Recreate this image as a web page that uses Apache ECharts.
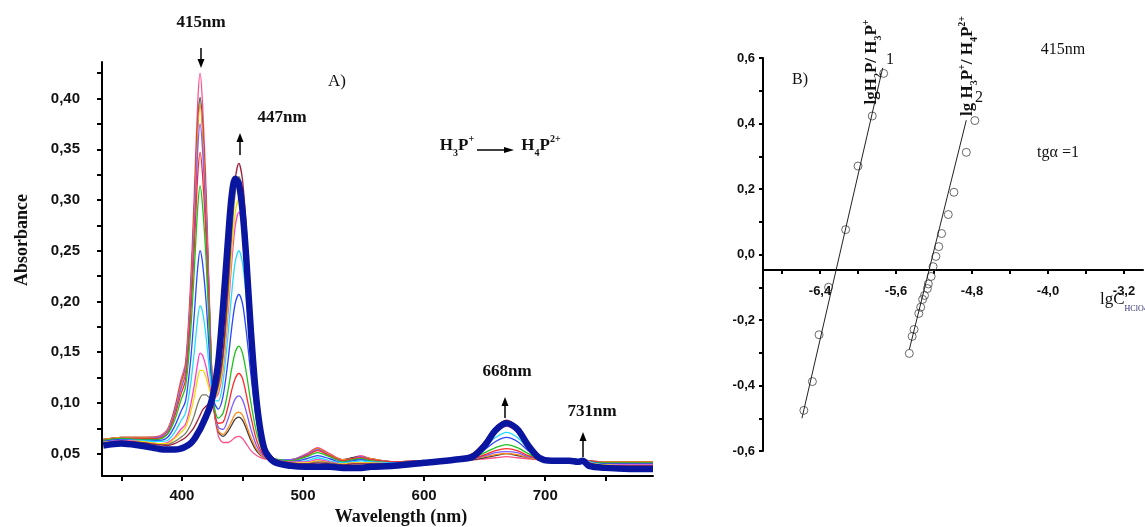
<!DOCTYPE html>
<html>
<head>
<meta charset="utf-8">
<script src="https://cdn.jsdelivr.net/npm/echarts@6.0.0/dist/echarts.min.js"></script>
<style>
html, body { margin: 0; padding: 0; background: #fff; }
#main { width: 1145px; height: 527px; }
</style>
</head>
<body>
<div id="main"></div>
<script>
// ---- panel A : spectra (wavelength, nm) ----
var wavelength = [335, 350, 365, 380, 388, 394, 399, 403, 407, 410, 413, 415, 417, 420, 423, 426, 430, 434, 438, 441,
  444, 447, 450, 453, 457, 462, 468, 476, 490, 503, 512, 522, 533, 541, 548, 556, 575, 600, 625, 640,
  650, 659, 668, 677, 686, 695, 705, 720, 727, 731, 736, 750, 770, 789];

var absPink    = [0.064,0.066,0.066,0.067,0.074,0.095,0.122,0.140,0.215,0.300,0.395,0.425,0.395,0.310,0.190,0.100,0.068,0.061,0.061,0.063,0.066,0.067,0.065,0.060,0.053,0.048,0.045,0.044,0.044,0.050,0.056,0.050,0.044,0.046,0.048,0.045,0.042,0.043,0.044,0.044,0.045,0.046,0.047,0.046,0.045,0.044,0.043,0.042,0.043,0.044,0.043,0.042,0.042,0.042];
var absBlack   = [0.064,0.066,0.066,0.066,0.073,0.093,0.118,0.135,0.205,0.284,0.373,0.401,0.374,0.295,0.184,0.100,0.072,0.067,0.072,0.078,0.084,0.086,0.083,0.075,0.063,0.052,0.046,0.044,0.044,0.049,0.055,0.049,0.044,0.046,0.047,0.045,0.042,0.043,0.044,0.044,0.046,0.048,0.050,0.048,0.046,0.044,0.043,0.042,0.043,0.044,0.043,0.042,0.042,0.042];
var absOrange  = [0.064,0.066,0.066,0.066,0.073,0.092,0.117,0.133,0.202,0.280,0.367,0.395,0.368,0.291,0.182,0.100,0.073,0.069,0.075,0.082,0.089,0.091,0.088,0.079,0.066,0.054,0.046,0.044,0.044,0.049,0.055,0.049,0.044,0.045,0.047,0.045,0.042,0.043,0.044,0.045,0.047,0.049,0.050,0.049,0.046,0.044,0.043,0.042,0.043,0.044,0.043,0.042,0.042,0.042];
var absViolet  = [0.063,0.065,0.065,0.066,0.072,0.090,0.113,0.129,0.193,0.266,0.348,0.375,0.350,0.278,0.177,0.101,0.076,0.074,0.084,0.095,0.104,0.107,0.103,0.092,0.074,0.057,0.047,0.044,0.044,0.049,0.054,0.048,0.043,0.045,0.047,0.044,0.042,0.043,0.044,0.045,0.048,0.051,0.052,0.051,0.047,0.045,0.043,0.042,0.043,0.044,0.043,0.041,0.041,0.041];
var absRed     = [0.063,0.065,0.065,0.065,0.070,0.087,0.108,0.123,0.182,0.248,0.323,0.347,0.325,0.261,0.169,0.101,0.080,0.081,0.096,0.112,0.124,0.129,0.124,0.109,0.086,0.062,0.048,0.044,0.043,0.048,0.053,0.048,0.043,0.045,0.046,0.044,0.042,0.043,0.044,0.045,0.049,0.053,0.055,0.053,0.048,0.045,0.043,0.042,0.043,0.044,0.043,0.041,0.041,0.041];
var absGreen   = [0.063,0.065,0.064,0.064,0.069,0.083,0.102,0.116,0.167,0.226,0.292,0.314,0.295,0.240,0.160,0.102,0.085,0.090,0.112,0.133,0.150,0.156,0.149,0.131,0.100,0.069,0.050,0.045,0.043,0.047,0.051,0.047,0.042,0.044,0.045,0.043,0.041,0.043,0.044,0.046,0.051,0.056,0.059,0.056,0.050,0.045,0.043,0.042,0.043,0.044,0.042,0.041,0.041,0.041];
var absBlue    = [0.062,0.064,0.063,0.063,0.066,0.077,0.091,0.102,0.140,0.184,0.233,0.250,0.238,0.199,0.143,0.103,0.094,0.107,0.141,0.173,0.198,0.207,0.198,0.172,0.127,0.080,0.053,0.045,0.042,0.045,0.048,0.045,0.041,0.043,0.044,0.042,0.041,0.042,0.044,0.047,0.054,0.062,0.066,0.062,0.053,0.046,0.043,0.042,0.043,0.045,0.042,0.040,0.040,0.040];
var absCyan    = [0.061,0.063,0.063,0.062,0.063,0.071,0.082,0.090,0.117,0.148,0.183,0.196,0.190,0.165,0.129,0.103,0.102,0.122,0.166,0.207,0.239,0.250,0.238,0.206,0.150,0.090,0.055,0.045,0.042,0.043,0.046,0.043,0.041,0.042,0.043,0.042,0.041,0.042,0.044,0.048,0.057,0.066,0.071,0.066,0.055,0.047,0.043,0.042,0.043,0.045,0.042,0.039,0.039,0.039];
var absMagenta = [0.061,0.063,0.062,0.060,0.061,0.066,0.074,0.079,0.097,0.116,0.139,0.149,0.147,0.135,0.116,0.104,0.109,0.134,0.187,0.237,0.274,0.288,0.274,0.236,0.169,0.099,0.057,0.045,0.042,0.042,0.044,0.042,0.040,0.041,0.041,0.041,0.040,0.042,0.044,0.049,0.059,0.071,0.077,0.071,0.057,0.047,0.043,0.042,0.043,0.045,0.041,0.039,0.039,0.039];
var absYellow  = [0.061,0.062,0.062,0.060,0.060,0.065,0.071,0.076,0.090,0.105,0.124,0.132,0.132,0.125,0.112,0.104,0.112,0.138,0.195,0.247,0.287,0.301,0.287,0.247,0.177,0.102,0.058,0.045,0.041,0.041,0.043,0.041,0.040,0.041,0.041,0.041,0.040,0.042,0.044,0.049,0.060,0.072,0.078,0.072,0.058,0.047,0.043,0.042,0.043,0.045,0.041,0.039,0.038,0.038];
var absOlive   = [0.060,0.062,0.061,0.059,0.059,0.062,0.066,0.070,0.078,0.087,0.099,0.105,0.108,0.108,0.105,0.105,0.116,0.146,0.207,0.264,0.307,0.323,0.307,0.264,0.188,0.107,0.059,0.045,0.041,0.040,0.042,0.041,0.039,0.040,0.040,0.040,0.040,0.042,0.044,0.050,0.061,0.075,0.081,0.075,0.059,0.048,0.043,0.042,0.043,0.045,0.041,0.038,0.038,0.038];
var absDarkRed = [0.060,0.062,0.061,0.059,0.058,0.060,0.063,0.066,0.071,0.076,0.083,0.088,0.093,0.097,0.100,0.105,0.118,0.150,0.215,0.275,0.320,0.336,0.320,0.275,0.195,0.110,0.060,0.045,0.041,0.040,0.041,0.040,0.039,0.040,0.040,0.040,0.040,0.042,0.044,0.050,0.062,0.076,0.083,0.076,0.060,0.048,0.043,0.042,0.043,0.045,0.041,0.038,0.038,0.038];
var absNavy    = [0.058,0.060,0.058,0.055,0.054,0.054,0.055,0.057,0.060,0.064,0.070,0.074,0.079,0.087,0.096,0.110,0.140,0.195,0.260,0.303,0.321,0.316,0.290,0.245,0.170,0.098,0.055,0.042,0.038,0.037,0.037,0.037,0.036,0.036,0.036,0.037,0.038,0.041,0.044,0.047,0.058,0.073,0.080,0.074,0.058,0.046,0.043,0.043,0.042,0.043,0.038,0.036,0.035,0.035];

var tickAx  = [350, 400, 450, 500, 550, 600, 650, 700, 750];
var labelAx = [400, 500, 600, 700];
var tickAy  = [0.05, 0.075, 0.10, 0.125, 0.15, 0.175, 0.20, 0.225, 0.25, 0.275, 0.30, 0.325, 0.35, 0.375, 0.40, 0.425];
var labelAy = [0.05, 0.10, 0.15, 0.20, 0.25, 0.30, 0.35, 0.40];

// ---- panel B : lg ratio vs lgC(HClO4) ----
var b1X = [-6.57, -6.48, -6.41, -6.31, -6.13, -6.00, -5.85, -5.73];
var b1Y = [-0.476, -0.388, -0.245, -0.100, 0.076, 0.270, 0.423, 0.553];
var b2X = [-5.46, -5.43, -5.41, -5.36, -5.34, -5.32, -5.30, -5.27, -5.26, -5.23, -5.21, -5.18, -5.15, -5.12, -5.05, -4.99, -4.86, -4.77];
var b2Y = [-0.302, -0.250, -0.229, -0.180, -0.161, -0.137, -0.125, -0.104, -0.090, -0.067, -0.037, -0.006, 0.024, 0.064, 0.122, 0.190, 0.312, 0.409];
var fit1X = [-6.59, -5.74];
var fit1Y = [-0.50, 0.57];
var fit2X = [-5.46, -4.86];
var fit2Y = [-0.29, 0.41];

var tickBx  = [-6.8, -6.4, -6.0, -5.6, -5.2, -4.8, -4.4, -4.0, -3.6, -3.2];
var labelBx = [-6.4, -5.6, -4.8, -4.0, -3.2];
var tickBy  = [-0.6, -0.5, -0.4, -0.3, -0.2, -0.1, 0, 0.1, 0.2, 0.3, 0.4, 0.5, 0.6];
var labelBy = [-0.6, -0.4, -0.2, 0, 0.2, 0.4, 0.6];

var spectra = [
  [absPink, '#ff4f8b'], [absBlack, '#3c3c3c'], [absOrange, '#ff8a1a'], [absViolet, '#7f5cff'],
  [absRed, '#ff2a2a'], [absGreen, '#1fc21f'], [absBlue, '#2a46ff'], [absCyan, '#22dcff'],
  [absMagenta, '#ff3fc4'], [absYellow, '#f2dc00'], [absOlive, '#7d7d62'], [absDarkRed, '#a0203c']
];

function pairs(xs, ys) { return xs.map(function (x, i) { return [x, ys[i]]; }); }
function comma(v, d) { return v.toFixed(d).replace('.', ','); }

var series = [];
spectra.forEach(function (s) {
  series.push({
    type: 'line', xAxisIndex: 0, yAxisIndex: 0, smooth: 0.3, showSymbol: false,
    lineStyle: { color: s[1], width: 1.3 }, data: pairs(wavelength, s[0])
  });
});
series.push({
  type: 'line', xAxisIndex: 0, yAxisIndex: 0, smooth: 0.3, showSymbol: false,
  lineStyle: { color: '#0a16a0', width: 6.5 }, data: pairs(wavelength, absNavy)
});
[[b1X, b1Y], [b2X, b2Y]].forEach(function (p) {
  series.push({
    type: 'scatter', xAxisIndex: 1, yAxisIndex: 1, symbol: 'circle', symbolSize: 8,
    itemStyle: { color: 'transparent', borderColor: '#444', borderWidth: 1 }, data: pairs(p[0], p[1])
  });
});
[[fit1X, fit1Y], [fit2X, fit2Y]].forEach(function (p) {
  series.push({
    type: 'line', xAxisIndex: 1, yAxisIndex: 1, showSymbol: false,
    lineStyle: { color: '#222', width: 1 }, data: pairs(p[0], p[1])
  });
});

var tickFontA = { fontFamily: '"Liberation Sans", Arial, sans-serif', fontWeight: 'bold', fontSize: 15, color: '#111' };
var tickFontB = { fontFamily: '"Liberation Sans Narrow", "Liberation Sans", Arial, sans-serif', fontWeight: 'bold', fontSize: 13, color: '#111' };
var axLine = { onZero: false, lineStyle: { color: '#000', width: 2 } };

function arrow(x, y1, y2) {
  var d = y2 > y1 ? 1 : -1;
  return [
    { type: 'line', shape: { x1: x, y1: y1, x2: x, y2: y2 - d * 6 }, style: { stroke: '#000', lineWidth: 1.5 } },
    { type: 'polygon', shape: { points: [[x - 3.5, y2 - d * 9], [x + 3.5, y2 - d * 9], [x, y2]] }, style: { fill: '#000' } }
  ];
}
function txt(x, y, text, font, extra) {
  var st = { text: text, font: font, fill: '#111', align: 'center', verticalAlign: 'middle' };
  for (var k in (extra || {})) st[k] = extra[k];
  return { type: 'text', x: x, y: y, style: st };
}
var serifB = 'bold 17px "Liberation Serif", "Times New Roman", serif';
var serifN = '16px "Liberation Serif", "Times New Roman", serif';
var chem = {
  m: { fontFamily: '"Liberation Serif", serif', fontWeight: 'bold', fontSize: 17, lineHeight: 24, fill: '#111' },
  s: { fontFamily: '"Liberation Serif", serif', fontWeight: 'bold', fontSize: 10, lineHeight: 24, verticalAlign: 'bottom', fill: '#111' },
  p: { fontFamily: '"Liberation Serif", serif', fontWeight: 'bold', fontSize: 10, lineHeight: 24, verticalAlign: 'top', fill: '#111' }
};
var chemB = {
  m: { fontFamily: '"Liberation Serif", serif', fontWeight: 'bold', fontSize: 17, lineHeight: 22, fill: '#111' },
  s: { fontFamily: '"Liberation Serif", serif', fontWeight: 'bold', fontSize: 10, lineHeight: 22, verticalAlign: 'bottom', fill: '#111' },
  p: { fontFamily: '"Liberation Serif", serif', fontWeight: 'bold', fontSize: 10, lineHeight: 22, verticalAlign: 'top', fill: '#111' }
};

var graphics = [
  txt(201, 23, '415nm', serifB),
  txt(337, 82, 'A)', '17px "Liberation Serif", serif'),
  txt(282, 118, '447nm', serifB),
  txt(507, 372, '668nm', serifB),
  txt(592, 412, '731nm', serifB),
  txt(457, 146, '{m|H}{s|3}{m|P}{p|+}', null, { rich: chem }),
  txt(541, 146, '{m|H}{s|4}{m|P}{p|2+}', null, { rich: chem }),
  { type: 'line', shape: { x1: 477, y1: 150, x2: 506, y2: 150 }, style: { stroke: '#000', lineWidth: 1.5 } },
  { type: 'polygon', shape: { points: [[504, 147], [504, 153], [514, 150]] }, style: { fill: '#000' } },
  { type: 'text', x: 22, y: 240, rotation: Math.PI / 2,
    style: { text: 'Absorbance', font: 'bold 18px "Liberation Serif", serif', fill: '#111', align: 'center', verticalAlign: 'middle' } },
  txt(401, 517, 'Wavelength (nm)', 'bold 18px "Liberation Serif", serif'),
  // panel B texts
  txt(800, 80, 'B)', serifN),
  txt(1063, 50, '415nm', serifN),
  txt(1058, 153, 'tgα =1', serifN),
  txt(890, 60, '1', serifN),
  txt(979, 98, '2', serifN),
  { type: 'text', x: 872, y: 62, rotation: Math.PI / 2,
    style: { text: '{m|lgH}{s|2}{m|P/ H}{s|3}{m|P}{p|+}', rich: chemB, align: 'center', verticalAlign: 'middle' } },
  { type: 'text', x: 968, y: 66, rotation: Math.PI / 2,
    style: { text: '{m|lg H}{s|3}{m|P}{p|+}{m|/ H}{s|4}{m|P}{p|2+}', rich: chemB, align: 'center', verticalAlign: 'middle' } },
  { type: 'text', x: 1100, y: 300,
    style: { text: '{a|lgC}{b|HClO4}', align: 'left', verticalAlign: 'middle',
      rich: { a: { fontFamily: '"Liberation Serif", serif', fontSize: 17, lineHeight: 26, fill: '#111' },
              b: { fontFamily: '"Liberation Serif", serif', fontSize: 8, lineHeight: 26, verticalAlign: 'bottom', fill: '#2c2c6e' } } } }
].concat(arrow(201, 48, 68), arrow(240, 155, 133), arrow(505, 418, 397), arrow(583, 457, 432));

var chart = echarts.init(document.getElementById('main'));
chart.setOption({
  backgroundColor: '#fff',
  animation: false,
  grid: [
    { left: 102, top: 62, width: 551, height: 414 },
    { left: 763, top: 58, width: 380, height: 393 }
  ],
  xAxis: [
    { type: 'value', gridIndex: 0, min: 334, max: 789, axisLine: axLine,
      axisTick: { customValues: tickAx, length: 5, lineStyle: { color: '#000', width: 2 } },
      axisLabel: Object.assign({ customValues: labelAx, margin: 12 }, tickFontA),
      splitLine: { show: false } },
    { type: 'value', gridIndex: 1, min: -7.0, max: -3.0, offset: -181, axisLine: axLine,
      axisTick: { customValues: tickBx, length: 4, lineStyle: { color: '#000', width: 2 } },
      axisLabel: Object.assign({ customValues: labelBx, margin: 15, formatter: function (v) { return comma(v, 1); } }, tickFontB),
      splitLine: { show: false } }
  ],
  yAxis: [
    { type: 'value', gridIndex: 0, min: 0.028, max: 0.436, axisLine: axLine,
      axisTick: { customValues: tickAy, length: 5, lineStyle: { color: '#000', width: 2 } },
      axisLabel: Object.assign({ customValues: labelAy, margin: 22, formatter: function (v) { return comma(v, 2); } }, tickFontA),
      splitLine: { show: false } },
    { type: 'value', gridIndex: 1, min: -0.6, max: 0.6, axisLine: axLine,
      axisTick: { customValues: tickBy, length: 4, lineStyle: { color: '#000', width: 2 } },
      axisLabel: Object.assign({ customValues: labelBy, margin: 8, formatter: function (v) { return comma(v, 1); } }, tickFontB),
      splitLine: { show: false } }
  ],
  series: series,
  graphic: graphics
});
</script>
</body>
</html>
